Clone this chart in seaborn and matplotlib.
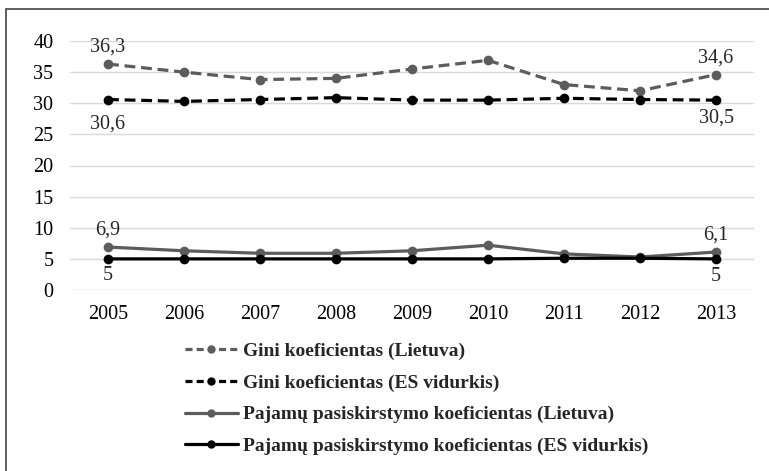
import matplotlib
matplotlib.use("Agg")
import matplotlib.pyplot as plt
import matplotlib.patches as mpatches
from matplotlib.lines import Line2D
import pandas as pd
import seaborn as sns

YEARS = ["2005", "2006", "2007", "2008", "2009", "2010", "2011", "2012", "2013"]
GINI_LT = [36.3, 35.0, 33.8, 34.0, 35.5, 36.9, 33.0, 32.0, 34.6]
GINI_EU = [30.6, 30.3, 30.6, 30.9, 30.5, 30.5, 30.8, 30.6, 30.5]
S80_LT = [6.9, 6.3, 5.9, 5.9, 6.3, 7.2, 5.8, 5.3, 6.1]
S80_EU = [5.0, 5.0, 5.0, 5.0, 5.0, 5.0, 5.1, 5.1, 5.0]

LABELS = [
    "Gini koeficientas (Lietuva)",
    "Gini koeficientas (ES vidurkis)",
    "Pajamų pasiskirstymo koeficientas (Lietuva)",
    "Pajamų pasiskirstymo koeficientas (ES vidurkis)",
]

GRAY = "#5c5c5c"
BLACK = "#000000"
DASH = (0, (3.4, 1.8))
LW = 2.3

sns.set_theme(style="white")
plt.rcParams["font.family"] = ["Liberation Serif", "DejaVu Serif"]

df = pd.DataFrame({"year": YEARS, "gini_lt": GINI_LT, "gini_eu": GINI_EU,
                   "s80_lt": S80_LT, "s80_eu": S80_EU})
df["pos"] = range(len(YEARS))

fig = plt.figure(figsize=(7.69, 4.71), dpi=100)
W, H = 769, 471
ax = fig.add_axes([70 / W, 1 - 290 / H, (754 - 70) / W, (290 - 41) / H])

styles = [
    ("gini_lt", GRAY, DASH),
    ("gini_eu", BLACK, DASH),
    ("s80_lt", GRAY, "-"),
    ("s80_eu", BLACK, "-"),
]
for col, color, ls in styles:
    sns.lineplot(data=df, x="pos", y=col, ax=ax, color=color, linestyle=ls,
                 linewidth=LW, marker="o", markersize=7, markeredgewidth=0,
                 legend=False)

ax.set_xlim(-0.5, len(YEARS) - 0.5)
ax.set_ylim(0, 40)
ax.set_yticks(range(0, 41, 5))
ax.set_xticks(df["pos"])
ax.set_xticklabels(YEARS)
ax.set_xlabel("")
ax.set_ylabel("")
ax.grid(axis="y", color="#d9d9d9", linewidth=1)
ax.set_axisbelow(True)
for s in ax.spines.values():
    s.set_visible(False)
ax.tick_params(axis="both", length=0, labelsize=14.5, colors="#000000")
ax.tick_params(axis="y", pad=12)
ax.tick_params(axis="x", pad=11)

def fmt(v):
    return f"{v:g}".replace(".", ",")

last = len(YEARS) - 1
ann = [
    (0, GINI_LT[0], 12), (0, GINI_EU[0], -18),
    (0, S80_LT[0], 12), (0, S80_EU[0], -12),
    (last, GINI_LT[last], 12), (last, GINI_EU[last], -13),
    (last, S80_LT[last], 12), (last, S80_EU[last], -12.5),
]
for x, v, dy in ann:
    ax.annotate(fmt(v), (x, v), xytext=(0, dy), textcoords="offset points",
                ha="center", va="center", fontsize=14.5)

handles = [
    Line2D([], [], color=GRAY, linestyle=(0, (2.2, 1.3)), linewidth=LW, marker="o", markersize=5),
    Line2D([], [], color=BLACK, linestyle=(0, (2.2, 1.3)), linewidth=LW, marker="o", markersize=5),
    Line2D([], [], color=GRAY, linestyle="-", linewidth=LW, marker="o", markersize=5),
    Line2D([], [], color=BLACK, linestyle="-", linewidth=LW, marker="o", markersize=5),
]
fig.legend(handles, LABELS, loc="upper left", bbox_to_anchor=(185 / W, 1 - 342 / H),
           frameon=False, prop={"weight": "bold", "size": 14}, handlelength=2.7,
           labelspacing=0.73, handletextpad=0.28, borderpad=0, borderaxespad=0)

frame = mpatches.Rectangle((6 / W, -0.1), 2, 1.1 - 9 / H, transform=fig.transFigure,
                           fill=False, edgecolor="#444444", linewidth=1.2)
fig.patches.append(frame)

fig.savefig("out.png", dpi=100)
